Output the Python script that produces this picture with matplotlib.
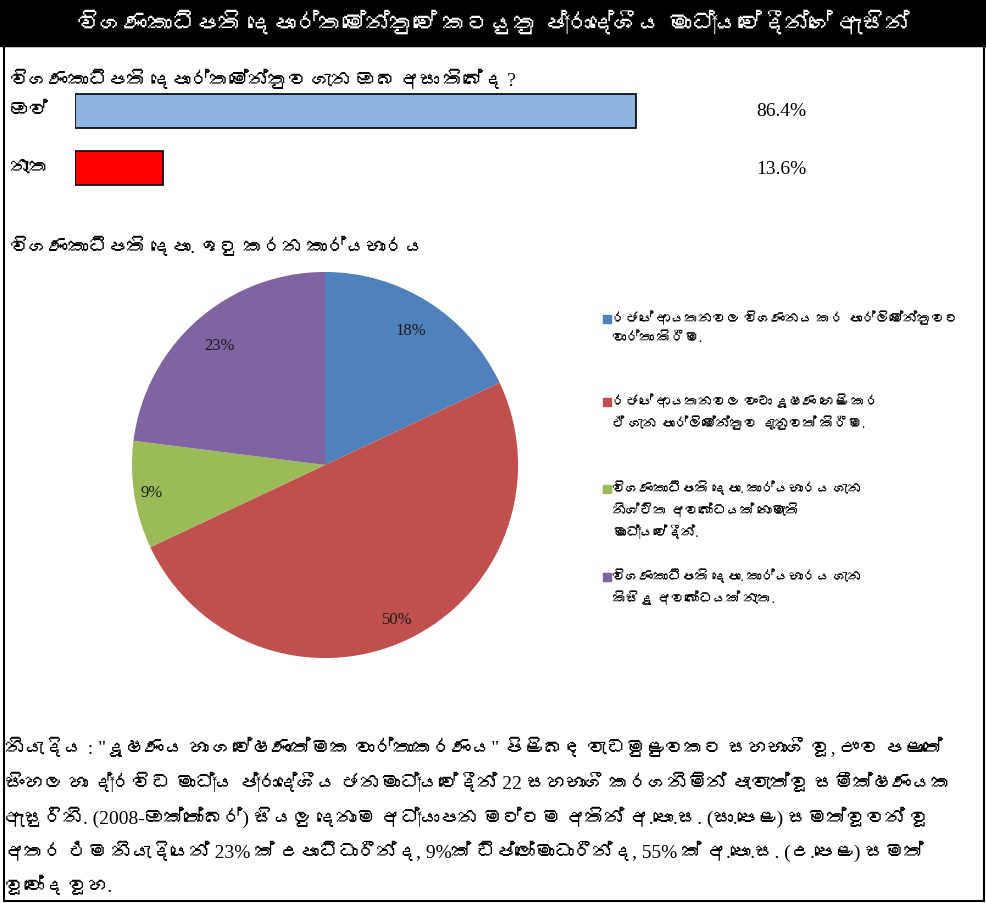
import matplotlib
matplotlib.use("Agg")
from matplotlib import pyplot as plt
from matplotlib import font_manager
from matplotlib.ft2font import FT2Font
from matplotlib.patches import Rectangle
import numpy as np

title = "විගණකාධිපති දෙපාර්තමේන්තුවේ කටයුතු ප්‍රාදේශීය මාධ්‍යවේදීන්ගේ ඇසින්"
question = "විගණකාධිපති දෙපාර්තමේන්තුව ගැන ඔබ අසා තිබේද ?"
answers = ["ඔව්", "නැත"]
answer_pct = [86.4, 13.6]
answer_colors = ["#8DB3E2", "#FF0000"]

pie_title = "විගණකාධිපති දෙපා. ඉටු කරන කාර්යභාරය"
roles = [
    "රජයේ ආයතනවල විගණනය කර පාර්ලිමේන්තුවට\nවාර්තා කිරීම.",
    "රජයේ ආයතනවල වංචා දූෂණ හෙළි කර\nඒ ගැන පාර්ලිමේන්තුව දැනුවත් කිරීම.",
    "විගණකාධිපති දෙපා. කාර්යභාරය ගැන\nනිශ්චිත අවබෝධයක් නොමැති\nමාධ්‍යවේදීන්.",
    "විගණකාධිපති දෙපා. කාර්යභාරය ගැන\nකිසිදු අවබෝධයක් නැත.",
]
role_pct = [18, 50, 9, 23]
role_colors = ["#4F81BD", "#C0504D", "#9BBB59", "#8064A2"]
# how far out each percentage sits inside its slice
label_r = [0.83, 0.88, 0.91, 0.83]

notes = [
    "නියැදිය : \"දූෂණය හා ගවේෂණාත්මක වාර්තාකරණය\" පිළිබඳ වැඩමුළුවකට සහභාගී වූ, ඌව පළාතේ",
    "සිංහල හා ද්‍රවිඩ මාධ්‍ය ප්‍රාදේශීය ජනමාධ්‍යවේදීන් 22 සහභාගී කරගනිමින් පැවැත්වූ සමීක්ෂණයක",
    "ඇසුරිනි. (2008-ඔක්තෝබර්) සියලු දෙනාම අධ්‍යාපන මට්ටම අතින් අ.පො.ස. (සා.පෙළ) සමත්වූවන් වූ",
    "අතර එම නියැදියෙන් 23% ක් උපාධිධාරීන්ද, 9%ක් ඩිප්ලෝමාධාරීන්ද, 55% ක් අ.පො.ස. (උ.පෙළ) සමත්",
    "වූවෝද වූහ.",
]


# pick an installed regular face that carries Sinhala glyphs
def sinhala_family():
    found = []
    for f in font_manager.fontManager.ttflist:
        try:
            if 0x0DC3 in FT2Font(f.fname).get_charmap():
                found.append(f)
        except Exception:
            pass
    if not found:
        return None
    found.sort(key=lambda f: (f.style != "normal", abs(int(f.weight) - 400)
                              if str(f.weight).isdigit() else 500))
    return found[0].name


fams = ["Liberation Serif"]
si = sinhala_family()
if si:
    fams.append(si)
fams.append("DejaVu Sans")
plt.rcParams["font.family"] = fams
plt.rcParams["font.weight"] = "normal"

W, H = 986, 904
fig = plt.figure(figsize=(W / 100, H / 100), dpi=100)

# page overlay in pixel coordinates
page = fig.add_axes([0, 0, 1, 1])
page.set_xlim(0, W)
page.set_ylim(H, 0)
page.axis("off")
page.add_patch(Rectangle((0, 0), W, 47, color="black"))
page.add_patch(Rectangle((4, 47), W - 6, H - 49, fill=False, ec="black", lw=1.5))
page.text(W / 2, 23, title, color="white", fontsize=17, ha="center", va="center")
page.text(10, 80, question, fontsize=14, va="center")
page.text(10, 247, pie_title, fontsize=14, va="center")


def box(x0, y0, x1, y1):
    return [x0 / W, 1 - y1 / H, (x1 - x0) / W, (y1 - y0) / H]


# answer bars
bx = fig.add_axes(box(75, 90, 75 + 649, 192))
pos = list(range(len(answers)))
bx.barh(pos, answer_pct, height=0.58, color=answer_colors, edgecolor="black", lw=1.2)
bx.set_xlim(0, 100)
bx.set_ylim(1 + 23 / 57, -22 / 57)
bx.axis("off")
for i, (a, v) in enumerate(zip(answers, answer_pct)):
    bx.text(-10.0, i, a, fontsize=14, ha="left", va="center")
    bx.text(105.0, i, f"{v:.1f}%", fontsize=14, ha="left", va="center")

# role pie
px = fig.add_axes(box(325 - 194, 466 - 194, 325 + 194, 466 + 194))
wedges, _, autotexts = px.pie(
    role_pct, colors=role_colors, startangle=90, counterclock=False,
    autopct="%d%%", radius=1.0,
    textprops=dict(fontsize=12, color="#1a1a1a"),
)
for w, t, r in zip(wedges, autotexts, label_r):
    mid = np.deg2rad((w.theta1 + w.theta2) / 2)
    t.set_position((r * np.cos(mid), r * np.sin(mid)))
px.set_xlim(-1.005, 1.005)
px.set_ylim(-1.005, 1.005)
px.set_aspect("equal")

# legend entries beside the pie
legend_y = [320, 403, 490, 578]
for y, label, c in zip(legend_y, roles, role_colors):
    page.add_patch(Rectangle((603, y - 4), 8, 8, color=c))
    page.text(612, y - 8, label, fontsize=10, va="top", linespacing=1.6)

# source note, running off the right edge
for i, line in enumerate(notes):
    page.text(5, 748 + i * 34.5, line, fontsize=14, va="center", clip_on=True)

fig.savefig("out.png", dpi=100)
